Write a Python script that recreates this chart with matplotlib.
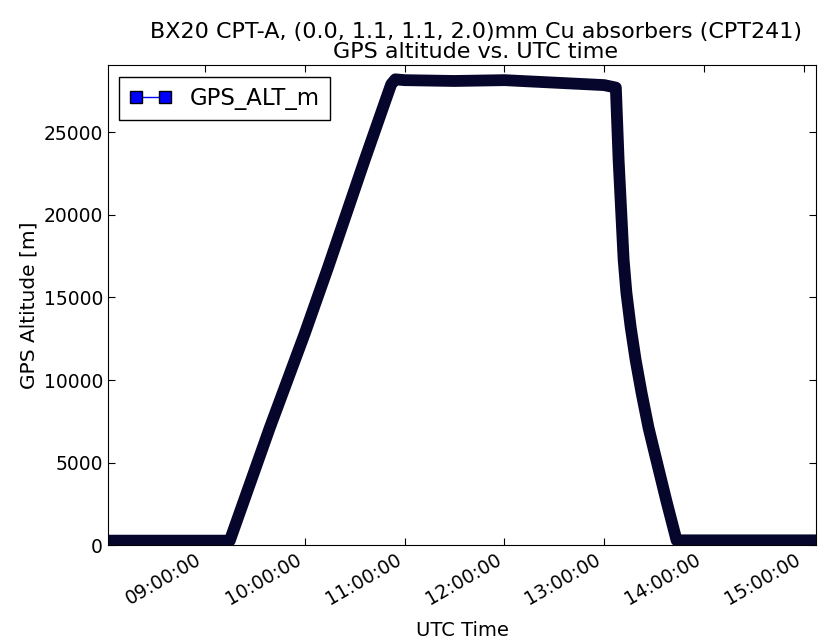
from datetime import datetime

import matplotlib
matplotlib.use("Agg")
import matplotlib.pyplot as plt
import matplotlib.dates as mdates
from matplotlib.lines import Line2D

# GPS track (UTC time, altitude in m)
times = ["08:01:00", "09:15:00", "09:39:00", "10:00:00", "10:14:00",
         "10:36:00", "10:48:30", "10:52:00", "10:54:30", "11:00:00",
         "11:30:00", "12:00:00", "12:30:00", "13:00:00", "13:07:00",
         "13:08:40", "13:09:40", "13:11:40", "13:13:20", "13:15:55",
         "13:18:55", "13:22:30", "13:26:40", "13:31:30", "13:37:20",
         "13:43:30", "15:08:00"]
alt_m = [280, 280, 7100, 12800, 16800,
         23300, 26900, 27900, 28200, 28150,
         28100, 28150, 28000, 27850, 27700,
         23300, 21300, 17300, 15300, 13200,
         11200, 9200, 7100, 5100, 2700,
         300, 300]

title = "BX20 CPT-A, (0.0, 1.1, 1.1, 2.0)mm Cu absorbers (CPT241)\nGPS altitude vs. UTC time"

t = [datetime.strptime("2015-01-01 " + s, "%Y-%m-%d %H:%M:%S") for s in times]

fig = plt.figure(figsize=(8.18, 6.4), dpi=100)
ax = fig.add_axes([0.132, 0.148, 0.866, 0.75])

# dense square markers in the original merge into one dark band
ax.plot(t, alt_m, color="#06062c", lw=8.5, solid_joinstyle="round",
        solid_capstyle="butt")

ax.set_xlim(datetime(2015, 1, 1, 8, 1, 48), datetime(2015, 1, 1, 15, 7, 30))
ax.set_ylim(0, 29050)
ax.xaxis.set_major_locator(mdates.HourLocator())
ax.xaxis.set_major_formatter(mdates.DateFormatter("%H:%M:%S"))
ax.set_yticks(range(0, 25001, 5000))

ax.tick_params(direction="in", top=True, right=True, length=5,
               labelsize=13.5, colors="black")
for lbl in ax.get_xticklabels():
    lbl.set_rotation(30)
    lbl.set_ha("right")

ax.set_xlabel("UTC Time", fontsize=14, labelpad=9)
ax.set_ylabel("GPS Altitude [m]", fontsize=14.5)
ax.set_title(title, fontsize=16, linespacing=1.0, pad=5, x=0.519)

handle = Line2D([], [], color="blue", lw=1, marker="s", markersize=8,
                markerfacecolor="blue", markeredgecolor="black")
leg = ax.legend([handle], ["GPS_ALT_m"], loc="upper left", numpoints=2,
                fontsize=16.4, fancybox=False, framealpha=1,
                borderaxespad=0.5, handlelength=1.85, borderpad=0.45)
leg.get_frame().set_edgecolor("black")

fig.savefig("out.png", dpi=100)
